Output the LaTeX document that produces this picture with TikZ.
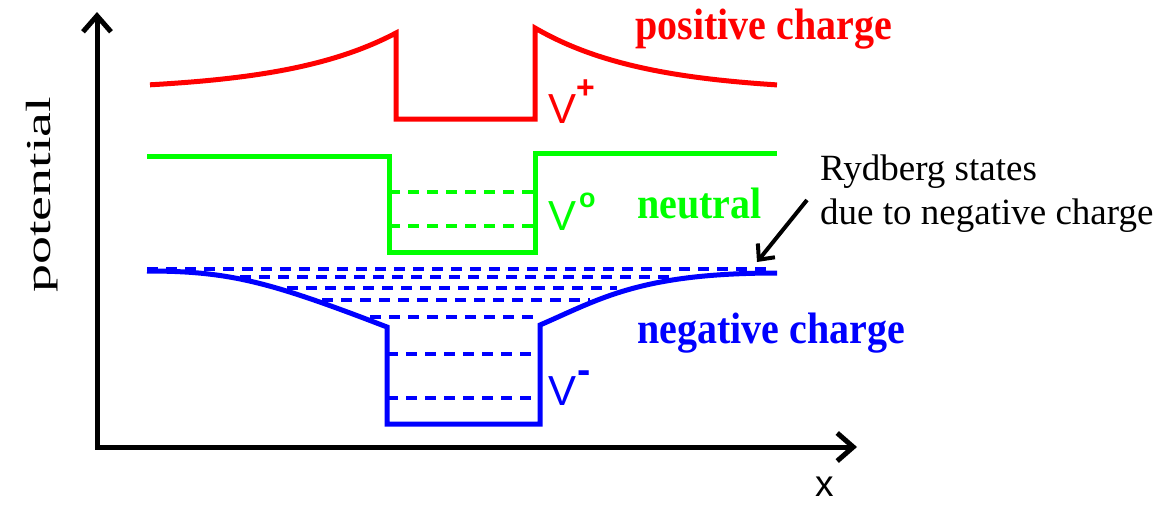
\documentclass[tikz,border=0pt]{standalone}
\usepackage{fontspec}
\setmainfont{Liberation Serif}
\newfontfamily\arialf{Liberation Sans}
\usetikzlibrary{arrows.meta}
\begin{document}
\begin{tikzpicture}[x=1pt,y=-1pt,
  curve/.style={line width=5pt, line join=miter},
  lvl/.style={line width=3.5pt, dash pattern=on 11pt off 8pt},
  lab/.style={inner sep=0pt, anchor=base west, font=\fontsize{40}{40}\selectfont\bfseries},
  vlab/.style={inner sep=0pt, anchor=base west, font=\arialf\fontsize{42}{42}\selectfont},
  txt/.style={inner sep=0pt, anchor=base west, font=\fontsize{37}{37}\selectfont},
  axis/.style={line width=5pt, line join=miter},
  barb/.tip={Straight Barb[length=16pt,width=28pt]}
]
\useasboundingbox (0,0) rectangle (1158,504);

% axes
\coordinate (o) at (97,447);
\coordinate (ytip) at (97,12);
\coordinate (xtip) at (857,447);
\draw[axis, barb-barb] (ytip) -- (o) -- (xtip);

\node[rotate=90, anchor=base west, inner sep=0pt, font=\fontsize{35}{35}\selectfont] (pot) at (50,293) {\scalebox{1.6}[1]{potential}};
\node[inner sep=0pt, anchor=base west, font=\arialf\fontsize{37}{37}\selectfont] (xl) at (815,496) {x};

% positive
\draw[curve, red] plot[domain=150:396, samples=60] (\x, {91-58*exp((\x-396)/110)}) -- (396,119) -- (535,119) -- (535,28) -- plot[domain=535:777, samples=60] (\x, {92-64*exp(-(\x-535)/110)});

% neutral
\draw[curve, green] (147,156) -- (389,156) -- (389,252) -- (535,252) -- (535,153) -- (777,153);
\draw[lvl, green] (389,192) -- (535,192);
\draw[lvl, green] (389,226) -- (535,226);

% negative
\draw[curve, blue] (147,271) .. controls (230,271) and (270,282) .. (387,327) -- (387,424) -- (540,424) -- (540,325) .. controls (600,299) and (640,273) .. (777,273);
\draw[lvl, blue] (147,269) -- (767,269);
\draw[lvl, blue] (240,277) -- (670,277);
\draw[lvl, blue] (287,288) -- (617,288);
\draw[lvl, blue] (322,300) -- (590,300);
\draw[lvl, blue] (370,317) -- (540,317);
\draw[lvl, blue] (387,354) -- (540,354);
\draw[lvl, blue] (387,398) -- (540,398);

% labels
\node[lab, red] (pos) at (635,39) {\scalebox{1}[1.1]{positive charge}};
\node[lab, green] (neu) at (637,218) {\scalebox{1}[1.1]{neutral}};
\node[lab, blue] (neg) at (637,343) {\scalebox{1}[1.1]{negative charge}};

\node[vlab, red] (vp) at (548,123) {V\raisebox{25pt}{\fontsize{32}{32}\selectfont\bfseries +}};
\node[vlab, green] (v0) at (548,230) {V\hspace{3pt}\raisebox{23pt}{\fontsize{27}{27}\selectfont\bfseries o}};
\node[vlab, blue] (vm) at (548,405) {V\hspace{1pt}\raisebox{22pt}{\fontsize{40}{40}\selectfont\bfseries -}};

\node[txt] (ryd1) at (820,180) {Rydberg states};
\node[txt] (ryd2) at (820,224) {due to negative charge};
\coordinate (as) at (807,200);
\coordinate (ae) at (757,262);
\draw[line width=4pt, -{Straight Barb[length=12pt,width=22pt]}] (as) -- (ae);
\end{tikzpicture}
\end{document}
